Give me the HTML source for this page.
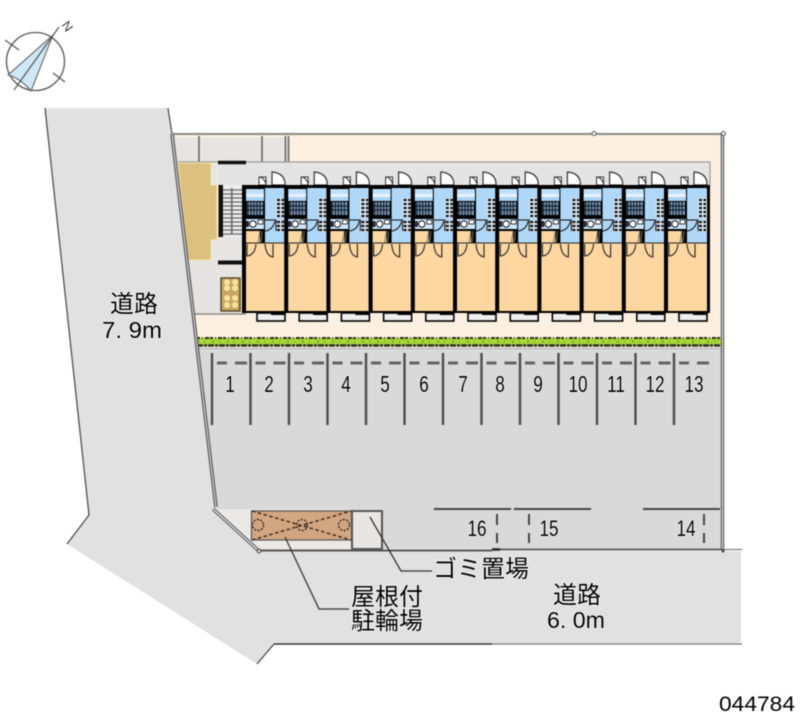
<!DOCTYPE html>
<html lang="ja"><head><meta charset="utf-8"><title>044784</title>
<style>
html,body{margin:0;padding:0;background:#fff}
svg{display:block;filter:blur(.45px)}
text{font-family:"Liberation Sans","Noto Sans CJK JP",sans-serif;fill:#000;paint-order:stroke;stroke:#fff;stroke-width:1.5px;stroke-opacity:.75}
</style></head><body>
<svg width="800" height="727" viewBox="0 0 800 727" xmlns="http://www.w3.org/2000/svg">
<defs>
<g id="unit">
  <!-- top doors -->
  <path d="M17 -8V0H24V-8ZM17 -8Q22 -8 24 -1" fill="#fff" stroke="#333" stroke-width="1"/>
  <path d="M30 -13V0H43V-2Q42 -12 30 -13Z" fill="#fff" stroke="#333" stroke-width="1.2"/>
  <!-- body -->
  <rect x="0" y="0" width="46" height="128" fill="#000"/>
  <rect x="4" y="4" width="18" height="5" fill="#bfe0f8"/>
  <rect x="4" y="9" width="18" height="3" fill="#e8f4ff"/>
  <rect x="4" y="12" width="18" height="4" fill="#a9d3f3"/>
  <rect x="5" y="17" width="16" height="13" fill="#7f97b0"/>
  <path d="M6 17V30M9 17V30M12 17V30M15 17V30M18 17V30M5 21H21M5 25H21" stroke="#123" stroke-width="1.2"/>
  <rect x="4" y="34" width="18" height="10" fill="#cfe8fb"/>
  <circle cx="11" cy="39" r="3.2" fill="#fff" stroke="#111"/>
  <rect x="4" y="36" width="3" height="6" fill="#223"/>
  <rect x="16" y="35" width="5" height="4" fill="#fff" stroke="#111" stroke-width=".8"/>
  <rect x="4" y="46" width="14" height="12" fill="#fbd6a0"/>
  <path d="M18 46L16 58M20 46L19 58" stroke="#776" stroke-width="1"/>
  <rect x="23" y="3" width="20" height="55" fill="#aed7f8"/>
  <rect x="34" y="13" width="9" height="20" fill="#dce8f0"/>
  <path d="M35 15h7M35 19h7M35 23h7M35 27h7M35 31h7" stroke="#111" stroke-width="2.200" stroke-dasharray="3 1.5"/>
  <rect x="34" y="35" width="9" height="12" fill="#dce8f0"/>
  <path d="M35 37h7M35 41h7M35 45h7" stroke="#111" stroke-width="2.200" stroke-dasharray="3 1.5"/>
  <path d="M23 35H34V46M23 46Q31 45 33 36" fill="none" stroke="#111" stroke-width="1"/>
  <rect x="4" y="58" width="39" height="68" fill="#fdd6a0"/>
  <path d="M4 58H43" stroke="#222" stroke-width="1"/>
  <path d="M5 59V71Q13 70 14 59" fill="none" stroke="#222" stroke-width="1.1"/>
  <path d="M31 59V72Q24 71 23 59" fill="none" stroke="#222" stroke-width="1.1"/>
  <rect x="15" y="128" width="28" height="8" fill="#eee" stroke="#000" stroke-width="1.6"/>
  <rect x="29" y="126" width="14" height="4" fill="#000"/>
</g>
<g id="pk">
  <rect x="-1.2" y="353" width="2.4" height="72" fill="#4c4c4c"/>
  <path d="M5 363H15M23 363H35" stroke="#636363" stroke-width="3"/>
</g>
</defs>

<rect width="800" height="727" fill="#fff"/>

<!-- road -->
<path d="M45 108H168L216 507L259 551H741V643H274L257 664L67 544L89 515Z" fill="#e1e1e1"/>
<path d="M45 108L89 515L67 544" fill="none" stroke="#444" stroke-width="1.2"/>
<path d="M274 644L257 664" fill="none" stroke="#444" stroke-width="1.2"/>
<path d="M274 644H492" fill="none" stroke="#333" stroke-width="1.5"/>
<path d="M492 644H742" fill="none" stroke="#888" stroke-width="1.5"/>
<path d="M168 108L172 134" fill="none" stroke="#444" stroke-width="1.2"/>

<!-- site -->
<path d="M172 135H722V349H196Z" fill="#fdf0e1"/>
<path d="M195 349H722V549H259L216 507Z" fill="#d9d9d9"/>
<path d="M174 137H286V162H177Z" fill="#e7e5e2"/>
<path d="M199 136V162M262 136V162M285.500 136V162M288.500 136V162" stroke="#666" stroke-width="1.6"/>
<rect x="218" y="163" width="492" height="23" fill="#e4e4e4"/>
<path d="M178 162H710V186" fill="none" stroke="#999" stroke-width="1.2"/>
<path d="M184 230L242 230V313H193Z" fill="#e6e4e2"/>
<path d="M193 314H246" stroke="#888" stroke-width="1.5"/>

<!-- hall -->
<path d="M178 163H211V185H217V240H211V260H188Z" fill="#dcc07e" stroke="#f8e8a8" stroke-width="1"/>
<rect x="211" y="164" width="8" height="21" fill="#e8e6e3"/>
<rect x="211" y="240" width="8" height="20" fill="#e8e6e3"/>
<rect x="219" y="237" width="23" height="23" fill="#e8e6e3"/>
<path d="M218 162.500H246" stroke="#111" stroke-width="3.500"/>
<path d="M218 262.500H242" stroke="#111" stroke-width="4"/>
<rect x="219" y="185" width="23" height="52" fill="#eee"/>
<path d="M223 190H242M223 194H242M223 198H242M223 202H242M223 206H242M223 210H242M223 214H242M223 218H242M223 222H242M223 226H242M223 230H242M223 234H242" stroke="#666" stroke-width="1.300"/>
<rect x="218.500" y="185" width="4.500" height="52" fill="#111"/>
<rect x="231" y="188" width="1.500" height="46" fill="#666"/>

<!-- bike rack -->
<rect x="221" y="278" width="19" height="33" fill="#c9a65f" stroke="#4a3a20" stroke-width="1.300"/>
<g fill="#f8e49a">
<circle cx="227" cy="282" r="3"/><circle cx="235" cy="282" r="3"/>
<circle cx="227" cy="288" r="3"/><circle cx="235" cy="288" r="3"/>
<circle cx="227" cy="298" r="3"/><circle cx="235" cy="298" r="3"/>
<circle cx="227" cy="305" r="3"/><circle cx="235" cy="305" r="3"/>
</g>

<!-- units -->
<g transform="translate(0,185)">
<use href="#unit" x="242"/><use href="#unit" x="284.200"/><use href="#unit" x="326.400"/><use href="#unit" x="368.600"/><use href="#unit" x="410.800"/><use href="#unit" x="453"/><use href="#unit" x="495.200"/><use href="#unit" x="537.400"/><use href="#unit" x="579.600"/><use href="#unit" x="621.800"/><use href="#unit" x="664"/>
</g>

<!-- hedge -->
<rect x="197" y="338" width="524" height="8" fill="#a8d838"/>
<path d="M197 338H721" stroke="#2c2c1e" stroke-width="2" stroke-dasharray="3 2 1 2 4 1"/>
<path d="M197 345.500H721" stroke="#2a2a2a" stroke-width="2.600" stroke-dasharray="6 1 3 1"/>
<path d="M197 341.500H721" stroke="#5f7f22" stroke-width="1.200" stroke-dasharray="2 5 1 7"/>
<path d="M196 348.500H722" stroke="#aaa" stroke-width="1"/>

<!-- parking lines -->
<use href="#pk" x="212"/><use href="#pk" x="250.500"/><use href="#pk" x="289"/><use href="#pk" x="327.500"/><use href="#pk" x="366"/><use href="#pk" x="404.500"/><use href="#pk" x="443"/><use href="#pk" x="481.500"/><use href="#pk" x="520"/><use href="#pk" x="558.500"/><use href="#pk" x="597"/><use href="#pk" x="635.500"/><use href="#pk" x="674"/>

<g font-size="22" text-anchor="middle">
<text transform="translate(230,392) scale(.78,1.05)">1</text>
<text transform="translate(269,392) scale(.78,1.05)">2</text>
<text transform="translate(308,392) scale(.78,1.05)">3</text>
<text transform="translate(346,392) scale(.78,1.05)">4</text>
<text transform="translate(385,392) scale(.78,1.05)">5</text>
<text transform="translate(424,392) scale(.78,1.05)">6</text>
<text transform="translate(463,392) scale(.78,1.05)">7</text>
<text transform="translate(500,392) scale(.78,1.05)">8</text>
<text transform="translate(538,392) scale(.78,1.05)">9</text>
<text transform="translate(578,392) scale(.78,1.05)">10</text>
<text transform="translate(616,392) scale(.78,1.05)">11</text>
<text transform="translate(655,392) scale(.78,1.05)">12</text>
<text transform="translate(694,392) scale(.78,1.05)">13</text>
<text transform="translate(477,536) scale(.78,1.02)">16</text>
<text transform="translate(549,536) scale(.78,1.02)">15</text>
<text transform="translate(686,536) scale(.78,1.02)">14</text>
</g>

<!-- bottom stalls -->
<path d="M434 509H511M514 509H591M643 509H720" stroke="#444" stroke-width="2"/>
<path d="M497 514V525M497 533V543M529 514V525M529 533V543M704 514V525M704 533V543" stroke="#444" stroke-width="2"/>

<!-- bottom-left corner -->
<path d="M216 510H352V550H259Z" fill="#ebe9e6"/>
<path d="M214 510H384" stroke="#eee" stroke-width="1"/>
<rect x="352" y="511" width="30" height="38" fill="#e8e6e3" stroke="#555" stroke-width="2"/>
<rect x="251.500" y="511" width="100" height="29" fill="#d2a681" stroke="#555" stroke-width="1.200"/>
<path d="M252 511L351 540M252 540L351 511" stroke="#33281c" stroke-width="1.400" stroke-dasharray="3.500 2.500" fill="none"/>
<g fill="none" stroke="#33281c" stroke-width="1.400" stroke-dasharray="2 1.500">
<circle cx="258" cy="525" r="5.500"/><circle cx="302" cy="525" r="5.500"/><circle cx="344" cy="525" r="5.500"/>
</g>
<path d="M259 550.500H492" stroke="#555" stroke-width="2"/>
<path d="M492 549.500H722" stroke="#555" stroke-width="1.800"/>
<path d="M722 549.500H742" stroke="#666" stroke-width="1"/>
<path d="M492 549.500H500" stroke="#222" stroke-width="2.500"/>
<path d="M213 509L259 551" stroke="#555" stroke-width="3.400" fill="none"/>
<path d="M213 509L259 551" stroke="#e8e8e8" stroke-width="1.300" fill="none"/>
<circle cx="259" cy="551" r="1.800" fill="#fff" stroke="#333"/>

<!-- boundary -->
<path d="M172 134L216 507" stroke="#555" stroke-width="3.600" fill="none"/>
<path d="M172 134L216 507" stroke="#ccc" stroke-width="1.300" fill="none"/>
<path d="M172 134H722" stroke="#888" stroke-width="2" fill="none"/>
<path d="M722.500 134V549" stroke="#666" stroke-width="3.600" fill="none"/>
<path d="M722.500 134V549" stroke="#ccc" stroke-width="1.200" fill="none"/>
<circle cx="594" cy="133.500" r="2" fill="#fff" stroke="#555"/>
<circle cx="723.500" cy="133.500" r="2" fill="#fff" stroke="#555"/>
<circle cx="723" cy="551" r="1.500" fill="#444"/>

<!-- leaders -->
<path d="M285 537L319 609H349" fill="none" stroke="#333" stroke-width="1.300"/>
<path d="M370 517L401 571H432" fill="none" stroke="#333" stroke-width="1.300"/>

<!-- labels -->
<g font-size="24">
<text x="433" y="577">ゴミ置場</text>
<text x="351" y="605">屋根付</text>
<text x="351" y="629">駐輪場</text>
<text x="553" y="603">道路</text>
<text x="110" y="312">道路</text>
</g>
<text x="547" y="628" font-size="23" textLength="58" lengthAdjust="spacingAndGlyphs">6. 0m</text>
<text x="102" y="338" font-size="23" textLength="60" lengthAdjust="spacingAndGlyphs">7. 9m</text>
<text x="719" y="711" font-size="21" textLength="76" lengthAdjust="spacingAndGlyphs">044784</text>

<!-- compass -->
<circle cx="35.500" cy="61.500" r="29" fill="#fff" stroke="#555" stroke-width="1.300"/>
<path d="M53 35L8 75Q20 78 31 91Z" fill="#cfe8f5" stroke="#555" stroke-width="1"/>
<path d="M59 27L14 90M5 40L19 50M53 73L65 82" stroke="#555" stroke-width="1.200" fill="none"/>
<text transform="translate(61,25) rotate(55)" font-size="13" style="fill:#444">N</text>
</svg>
</body></html>
